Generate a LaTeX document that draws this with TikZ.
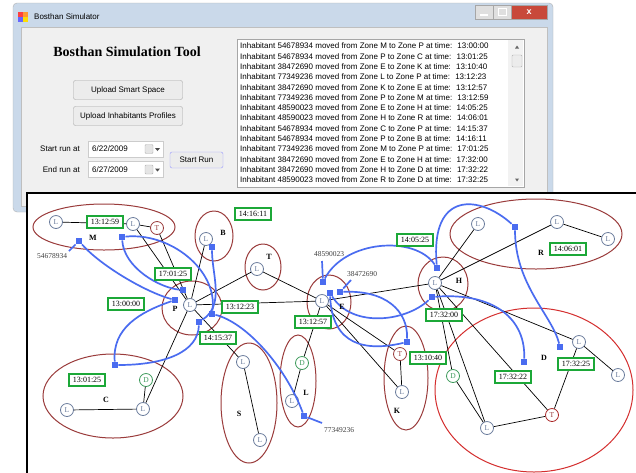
\documentclass[tikz,border=0pt]{standalone}
\usepackage{fontspec}
\setmainfont{Liberation Serif}
\newfontfamily\uifont{Liberation Sans}
\definecolor{zonebrown}{HTML}{9A3B3B}
\definecolor{zonered}{HTML}{D42E2E}
\definecolor{nodeblue}{HTML}{6A7C9C}
\definecolor{stampgreen}{HTML}{1CA838}
\definecolor{walkblue}{HTML}{4A6CF0}
\definecolor{dgreen}{HTML}{3C9A5A}
\definecolor{winframe}{HTML}{CAD9EA}
\definecolor{winface}{HTML}{F0F0F0}
\definecolor{closered}{HTML}{C8493A}

\begin{document}
\begin{tikzpicture}[x=1pt,y=-1pt,
  uitext/.style={font=\uifont\fontsize{8}{9}\selectfont, inner sep=1pt},
  uibtn/.style={draw=gray!70, fill=gray!15, rounded corners=2pt, font=\uifont\fontsize{8}{9}\selectfont},
  datebox/.style={draw=gray!40, fill=white, minimum width=75pt, minimum height=16pt},
  logline/.style={anchor=west, inner sep=0pt, font=\uifont\fontsize{8}{9}\selectfont},
  zone/.style={draw=zonebrown, line width=1pt},
  lnode/.style={circle, draw=nodeblue, fill=white, text=nodeblue, inner sep=0pt, minimum size=13pt, line width=0.8pt, font=\fontsize{7.5}{7.5}\selectfont},
  tnode/.style={lnode, draw=zonebrown, text=zonebrown},
  dnode/.style={lnode, draw=dgreen, text=dgreen},
  link/.style={black, line width=0.7pt},
  walk/.style={walkblue, line width=1.7pt},
  sq/.style={fill=walkblue, minimum size=6.5pt, inner sep=0pt},
  stamp/.style={draw=stampgreen, fill=white, line width=2pt, inner xsep=3.5pt, inner ysep=1pt, minimum height=12.5pt, font=\fontsize{8}{8}\selectfont},
  zlabel/.style={font=\bfseries\fontsize{8}{8}\selectfont},
  idlabel/.style={text=black!75, font=\fontsize{7.5}{8}\selectfont}]
\useasboundingbox (0,0) rectangle (636,472);
\clip (0,0) rectangle (636,472);
\fill[white] (0,0) rectangle (636,472);

% simulator window
\filldraw[draw=gray!60, fill=winframe, rounded corners=4pt] (13,3) rectangle (553,212);
\filldraw[draw=gray!50, fill=winface] (21,27) rectangle (547,206);
\fill[red!75] (18,12) rectangle (23,17);
\fill[orange!80] (23,12) rectangle (28,17);
\fill[blue!60] (18,17) rectangle (23,22);
\fill[yellow!80!orange] (23,17) rectangle (28,22);
\node[uitext, anchor=west] (wtitle) at (33,17) {Bosthan Simulator};
\node[draw=gray!70, fill=gray!25, minimum width=18pt, minimum height=14pt, inner sep=0] (minbtn) at (484,12) {};
\node[draw=gray!70, fill=gray!25, minimum width=18pt, minimum height=14pt, inner sep=0] (maxbtn) at (502,12) {};
\node[draw=gray!70, fill=closered, text=white, minimum width=36pt, minimum height=14pt, inner sep=0, font=\uifont\bfseries\fontsize{9}{9}\selectfont] (closebtn) at (529,12) {x};
\draw[white, line width=1.5pt] (480,15) -- (488,15);
\draw[white, line width=1pt] (498,8) rectangle (506,15);

\node[font=\bfseries\fontsize{14}{14}\selectfont] (heading) at (127,52) {Bosthan Simulation Tool};
\node[uibtn, minimum width=109pt, minimum height=19pt] (smartbtn) at (128,90) {Upload Smart Space};
\node[uibtn, minimum width=109pt, minimum height=19pt] (profbtn) at (128,116) {Upload Inhabitants Profiles};

\node[uitext, anchor=east] (startlbl) at (81,149) {Start run at};
\node[datebox] (startdate) at (125.5,149) {};
\node[uitext, anchor=west] (startval) at (91,149) {6/22/2009};
\node[draw=gray!60, fill=gray!20, rounded corners=1pt, minimum width=8pt, minimum height=9pt, inner sep=0] (startcal) at (149,149) {};
\fill[black!70] (155,148) -- (160,148) -- (157.5,151) -- cycle;
\node[uitext, anchor=east] (endlbl) at (81,169.5) {End run at};
\node[datebox] (enddate) at (125.5,169.5) {};
\node[uitext, anchor=west] (endval) at (91,169.5) {6/27/2009};
\node[draw=gray!60, fill=gray!20, rounded corners=1pt, minimum width=8pt, minimum height=9pt, inner sep=0] (endcal) at (149,169.5) {};
\fill[black!70] (155,168.5) -- (160,168.5) -- (157.5,171.5) -- cycle;
\node[uibtn, draw=blue!40, minimum width=53pt, minimum height=16pt] (runbtn) at (196.5,160) {Start Run};

% log of moves
\node[draw=gray!70, fill=white, minimum width=287pt, minimum height=148pt, inner sep=0] (logbox) at (380.5,113) {};
\fill[gray!10] (508,40) rectangle (523,186);
\node[draw=gray!60, fill=gray!15, rounded corners=1pt, minimum width=10pt, minimum height=12pt, inner sep=0] (thumb) at (517,61) {};
\fill[black!60] (515,48.5) -- (519,48.5) -- (517,45.5) -- cycle;
\fill[black!60] (515,178.5) -- (519,178.5) -- (517,181.5) -- cycle;
\node[logline] (log1) at (240,46) {Inhabitant 54678934 moved from Zone M to Zone P at time:~ 13:00:00};
\node[logline] (log2) at (240,56.3) {Inhabitant 54678934 moved from Zone P to Zone C at time:~ 13:01:25};
\node[logline] (log3) at (240,66.6) {Inhabitant 38472690 moved from Zone E to Zone K at time:~ 13:10:40};
\node[logline] (log4) at (240,76.9) {Inhabitant 77349236 moved from Zone L to Zone P at time:~ 13:12:23};
\node[logline] (log5) at (240,87.2) {Inhabitant 38472690 moved from Zone K to Zone E at time:~ 13:12:57};
\node[logline] (log6) at (240,97.5) {Inhabitant 77349236 moved from Zone P to Zone M at time:~ 13:12:59};
\node[logline] (log7) at (240,107.8) {Inhabitant 48590023 moved from Zone E to Zone H at time:~ 14:05:25};
\node[logline] (log8) at (240,118.1) {Inhabitant 48590023 moved from Zone H to Zone R at time:~ 14:06:01};
\node[logline] (log9) at (240,128.4) {Inhabitant 54678934 moved from Zone C to Zone P at time:~ 14:15:37};
\node[logline] (log10) at (240,138.7) {Inhabitant 54678934 moved from Zone P to Zone B at time:~ 14:16:11};
\node[logline] (log11) at (240,149) {Inhabitant 77349236 moved from Zone M to Zone P at time:~ 17:01:25};
\node[logline] (log12) at (240,159.3) {Inhabitant 38472690 moved from Zone E to Zone H at time:~ 17:32:00};
\node[logline] (log13) at (240,169.6) {Inhabitant 38472690 moved from Zone H to Zone D at time:~ 17:32:22};
\node[logline] (log14) at (240,179.9) {Inhabitant 48590023 moved from Zone R to Zone D at time:~ 17:32:25};

% smart space panel
\draw[line width=2.5pt, fill=white] (27,193) rectangle (660,490);

% zones
\draw[zone] (104,227) ellipse [x radius=71, y radius=23];
\draw[zone] (214,236) ellipse [x radius=19, y radius=25];
\draw[zone] (263,267) ellipse [x radius=18, y radius=23];
\draw[zone] (192,308) ellipse [x radius=30, y radius=27];
\draw[zone] (329,302) ellipse [x radius=22, y radius=27];
\draw[zone] (443,284) ellipse [x radius=25, y radius=27];
\draw[zone] (536,234) ellipse [x radius=86, y radius=35];
\draw[zone, draw=zonered] (534,390) ellipse [x radius=99, y radius=82];
\draw[zone] (406,378) ellipse [x radius=22, y radius=52];
\draw[zone] (298,381) ellipse [x radius=18, y radius=46];
\draw[zone] (249,403) ellipse [x radius=28, y radius=60];
\draw[zone] (113,396) ellipse [x radius=70, y radius=42];

% sensors
\node[lnode] (mL1) at (56,222) {L};
\node[lnode] (mL2) at (133,224) {L};
\node[tnode] (mT) at (157,228) {T};
\node[lnode] (bL) at (206,239) {L};
\node[lnode] (tL) at (257,269) {L};
\node[lnode] (pL) at (190,305) {L};
\node[lnode] (eL) at (322,301) {L};
\node[lnode] (hL) at (435,283) {L};
\node[lnode] (rL1) at (478,224) {L};
\node[lnode] (rL2) at (557,222) {L};
\node[lnode] (rL3) at (608,239) {L};
\node[dnode] (dD) at (453,376) {D};
\node[lnode] (dL1) at (487,428) {L};
\node[tnode, draw=zonered!80!black] (dT) at (552,415) {T};
\node[lnode] (dL2) at (579,342) {L};
\node[lnode] (dL3) at (618,375) {L};
\node[tnode] (kT) at (400,354) {T};
\node[lnode] (kL) at (402,392) {L};
\node[dnode] (lD) at (302,363) {D};
\node[lnode] (lL) at (292,401) {L};
\node[lnode] (sL1) at (243,362) {L};
\node[lnode] (sL2) at (260,440) {L};
\node[lnode] (cL1) at (67,410) {L};
\node[lnode] (cL2) at (143,409) {L};
\node[dnode] (cD) at (146,380) {D};

\draw[link] (mL1) -- (mL2);
\draw[link] (mL2) -- (mT);
\draw[link] (mL2) -- (pL);
\draw[link] (mT) -- (pL);
\draw[link] (bL) -- (pL);
\draw[link] (tL) -- (pL);
\draw[link] (pL) -- (eL);
\draw[link] (pL) -- (sL1);
\draw[link] (pL) -- (cL2);
\draw[link] (tL) -- (eL);
\draw[link] (eL) -- (hL);
\draw[link] (eL) -- (lD);
\draw[link] (eL) -- (kT);
\draw[link] (eL) -- (kL);
\draw[link] (hL) -- (rL1);
\draw[link] (hL) -- (rL2);
\draw[link] (rL2) -- (rL3);
\draw[link] (hL) -- (dD);
\draw[link] (hL) -- (dL1);
\draw[link] (hL) -- (dT);
\draw[link] (hL) -- (dL2);
\draw[link] (dD) -- (dL1);
\draw[link] (dL1) -- (dT);
\draw[link] (dT) -- (dL2);
\draw[link] (dL2) -- (dL3);
\draw[link] (kT) -- (kL);
\draw[link] (lD) -- (lL);
\draw[link] (sL1) -- (sL2);
\draw[link] (cL1) -- (cL2);
\draw[link] (cD) -- (cL2);

% inhabitants' walks
\node[sq] (qM1) at (79,241) {};
\node[sq] (qM2) at (122,237) {};
\node[sq] (qP1) at (175,300) {};
\node[sq] (qP2) at (183,290) {};
\node[sq] (qP3) at (199,322) {};
\node[sq] (qP4) at (212,314) {};
\node[sq] (qB) at (212,247) {};
\node[sq] (qC) at (115,365) {};
\node[sq] (qL) at (304,416) {};
\node[sq] (qE1) at (323,282) {};
\node[sq] (qE2) at (330,293) {};
\node[sq] (qE3) at (340,292) {};
\node[sq] (qK) at (407,342) {};
\node[sq] (qH1) at (437,268) {};
\node[sq] (qH2) at (432,297) {};
\node[sq] (qR) at (515,227) {};
\node[sq] (qD1) at (524,362) {};
\node[sq] (qD2) at (560,347) {};
\coordinate (tailM) at (69,251);
\coordinate (tailE1) at (322,261);
\coordinate (tailE3) at (351,280);
\coordinate (tailL) at (322,423);

\draw[walk] (qM1) -- (tailM);
\draw[walk] (qE1) -- (tailE1);
\draw[walk] (qE3) -- (tailE3);
\draw[walk] (qL) -- (tailL);
\draw[walk] (qM1) .. controls (100,265) and (145,292) .. (qP1);
\draw[walk] (qP1) .. controls (140,312) and (112,328) .. (qC);
\draw[walk] (qC) .. controls (165,365) and (198,352) .. (qP3);
\draw[walk] (qP3) .. controls (225,305) and (212,275) .. (qB);
\draw[walk] (qL) .. controls (285,365) and (245,322) .. (qP4);
\draw[walk] (qP4) .. controls (218,270) and (170,232) .. (qM2);
\draw[walk] (qM2) .. controls (124,268) and (160,288) .. (qP2);
\draw[walk] (qE3) .. controls (385,290) and (408,310) .. (qK);
\draw[walk] (qK) .. controls (365,352) and (332,345) .. (qE2);
\draw[walk] (qE1) .. controls (345,240) and (415,235) .. (qH1);
\draw[walk] (qH1) .. controls (430,190) and (480,195) .. (qR);
\draw[walk] (qR) .. controls (515,285) and (552,315) .. (qD2);
\draw[walk] (qE2) .. controls (352,328) and (405,322) .. (qH2);
\draw[walk] (qH2) .. controls (495,292) and (526,320) .. (qD1);

% times of the moves
\node[stamp] (s1259) at (105,222) {13:12:59};
\node[stamp] (s1611) at (253,214) {14:16:11};
\node[stamp] (s0125b) at (173,274) {17:01:25};
\node[stamp] (s0000) at (126,304) {13:00:00};
\node[stamp] (s1223) at (240,307) {13:12:23};
\node[stamp] (s1537) at (218,338) {14:15:37};
\node[stamp] (s1257) at (313,322) {13:12:57};
\node[stamp] (s0525) at (415,240) {14:05:25};
\node[stamp] (s3200) at (444,315) {17:32:00};
\node[stamp] (s1040) at (428,358) {13:10:40};
\node[stamp] (s0601) at (568,249) {14:06:01};
\node[stamp] (s3222) at (513,377) {17:32:22};
\node[stamp] (s3225) at (576,364) {17:32:25};
\node[stamp] (s0125) at (87,380) {13:01:25};

% zone names and inhabitants
\node[zlabel] (zM) at (93,238) {M};
\node[zlabel] (zB) at (223,233) {B};
\node[zlabel] (zT) at (269,257) {T};
\node[zlabel] (zP) at (175,309) {P};
\node[zlabel] (zE) at (342,307) {E};
\node[zlabel] (zH) at (459,281) {H};
\node[zlabel] (zR) at (541,253) {R};
\node[zlabel] (zD) at (544,358) {D};
\node[zlabel] (zK) at (397,411) {K};
\node[zlabel] (zL) at (306,393) {L};
\node[zlabel] (zS) at (239,414) {S};
\node[zlabel] (zC) at (106,400) {C};
\node[idlabel] (id546) at (52,256) {54678934};
\node[idlabel] (id485) at (329,254) {48590023};
\node[idlabel] (id384) at (362,274) {38472690};
\node[idlabel] (id773) at (339,430) {77349236};
\end{tikzpicture}
\end{document}
